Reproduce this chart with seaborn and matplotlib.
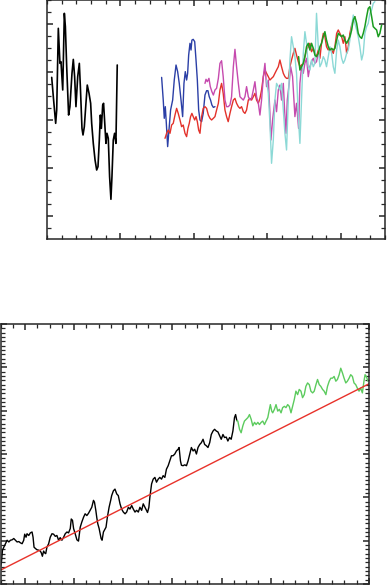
import numpy as np
import seaborn as sns
import matplotlib
matplotlib.use("Agg")
import matplotlib.pyplot as plt
from matplotlib.ticker import MultipleLocator, FixedLocator

# ---- top panel series (x in minor-tick units, y in minor-tick units) ----
black_x = [0.32, 0.43, 0.59, 0.66, 0.77, 0.88, 0.95, 1.07, 1.18, 1.25, 1.34, 1.47, 1.56, 1.70,
           1.79, 1.88, 1.97, 2.09, 2.20, 2.27, 2.38, 2.45, 2.54, 2.65, 2.74, 2.86, 2.97, 3.04,
           3.15, 3.27, 3.38, 3.47, 3.56, 3.63, 3.70, 3.79, 3.85, 3.95, 4.01, 4.08, 4.17, 4.26,
           4.35, 4.42, 4.51, 4.60, 4.69, 4.78]
black_y = [12.58, 10.97, 8.75, 9.86, 16.67, 13.75, 13.89, 11.53, 17.92, 16.81, 13.47, 9.44, 10.14,
           12.92, 14.08, 12.64, 10.14, 12.64, 13.75, 11.81, 8.33, 7.78, 8.47, 10.42, 11.94, 11.25,
           10.42, 8.75, 7.08, 5.69, 4.86, 5.14, 7.36, 9.44, 8.33, 10.28, 10.42, 8.33, 7.08, 7.92,
           7.50, 4.31, 2.42, 4.31, 7.36, 7.92, 7.08, 13.61]

blue_x = [7.80, 7.91, 7.98, 8.05, 8.12, 8.21, 8.30, 8.41, 8.55, 8.66, 8.78, 8.89, 9.00, 9.12, 9.23,
          9.32, 9.41, 9.50, 9.57, 9.64, 9.73, 9.80, 9.86, 9.95, 10.05, 10.14, 10.23, 10.32, 10.41,
          10.52, 10.63, 10.75, 10.86, 10.95, 11.04, 11.13, 11.22, 11.32, 11.43]
blue_y = [12.58, 10.69, 9.17, 10.14, 8.75, 6.81, 8.19, 9.86, 10.69, 12.36, 13.61, 13.06, 12.08,
          10.69, 9.31, 12.08, 13.06, 12.36, 12.92, 14.44, 15.42, 14.86, 15.69, 15.75, 15.56, 14.03,
          12.36, 9.86, 9.03, 8.89, 9.58, 11.11, 11.47, 11.47, 10.97, 10.69, 10.28, 10.08, 10.14]

red_x = [8.03, 8.14, 8.25, 8.37, 8.48, 8.59, 8.71, 8.82, 8.93, 9.05, 9.16, 9.27, 9.39, 9.50, 9.59,
         9.68, 9.77, 9.86, 9.95, 10.05, 10.14, 10.23, 10.32, 10.41, 10.52, 10.63, 10.75, 10.86,
         10.98, 11.09, 11.20, 11.32, 11.43, 11.54, 11.66, 11.77, 11.88, 11.99, 12.11, 12.22, 12.33,
         12.45, 12.56, 12.68, 12.79, 12.90, 13.02, 13.13, 13.24, 13.36, 13.47, 13.58, 13.70, 13.81,
         13.92, 14.04, 14.15, 14.26, 14.38, 14.49, 14.60, 14.72, 14.83, 14.94, 15.06, 15.17, 15.28,
         15.40, 15.51, 15.62, 15.74, 15.85, 15.96, 16.08, 16.19, 16.30, 16.42, 16.53, 16.64, 16.76,
         16.87, 16.98, 17.10, 17.21, 17.32, 17.44, 17.55, 17.66, 17.78, 17.89, 18.00, 18.12, 18.23,
         18.34, 18.46, 18.57, 18.68, 18.80, 18.91, 19.02, 19.14, 19.25, 19.37, 19.48, 19.59, 19.71,
         19.82, 19.93, 20.05, 20.16, 20.27, 20.39, 20.50, 20.61, 20.73, 20.84, 20.95]
red_y = [7.50, 7.92, 8.19, 7.92, 8.61, 8.75, 9.44, 10.00, 9.58, 9.03, 8.47, 8.61, 7.92, 7.64, 8.33,
         8.75, 9.31, 9.58, 9.31, 9.03, 9.31, 8.89, 8.19, 7.92, 9.31, 10.00, 10.14, 10.00, 9.44, 9.17,
         9.03, 9.17, 9.31, 9.86, 10.42, 11.53, 12.08, 11.25, 9.86, 9.31, 8.89, 9.58, 10.14, 10.69,
         10.83, 10.42, 10.14, 10.00, 10.14, 9.72, 9.58, 9.86, 10.69, 10.83, 10.69, 10.97, 11.25,
         10.69, 10.42, 10.83, 11.53, 12.64, 13.19, 12.92, 12.64, 12.36, 12.50, 12.64, 12.92, 13.19,
         13.47, 14.03, 13.47, 12.92, 12.64, 12.50, 12.50, 13.47, 14.03, 14.58, 15.00, 14.44, 13.89,
         13.47, 13.61, 13.75, 14.31, 14.86, 15.14, 15.42, 14.72, 15.00, 14.58, 14.31, 14.86, 14.17,
         15.42, 16.25, 15.97, 15.14, 14.86, 15.00, 14.86, 14.58, 15.14, 16.25, 16.53, 16.25, 15.97,
         15.42, 15.97, 14.58, 15.14, 16.25, 16.94, 17.36, 17.64]

magenta_x = [10.75, 10.82, 10.91, 11.02, 11.11, 11.22, 11.32, 11.43, 11.54, 11.66, 11.77, 11.88,
             11.99, 12.11, 12.22, 12.33, 12.45, 12.56, 12.68, 12.79, 12.90, 13.02, 13.13, 13.24,
             13.36, 13.47, 13.58, 13.70, 13.81, 13.92, 14.04, 14.15, 14.26, 14.38, 14.49, 14.60,
             14.72, 14.83, 14.94, 15.06, 15.17, 15.24, 15.35, 15.51, 15.62, 15.74, 15.85, 15.96,
             16.08, 16.19, 16.26, 16.35, 16.48, 16.58, 16.71, 16.87, 16.98, 17.12, 17.21, 17.32,
             17.44, 17.55, 17.66, 17.78, 17.89, 18.00, 18.12, 18.23, 18.34, 18.46]
magenta_y = [12.08, 12.42, 12.22, 12.50, 11.81, 11.39, 11.11, 11.53, 11.67, 12.50, 13.75, 13.97,
             12.64, 10.69, 10.14, 10.14, 10.28, 10.97, 13.47, 14.92, 13.47, 12.08, 10.97, 10.83,
             10.69, 10.97, 11.81, 10.97, 10.69, 10.83, 11.53, 12.22, 10.97, 10.42, 9.44, 10.69,
             12.64, 13.75, 11.81, 12.36, 9.58, 7.36, 9.03, 10.69, 9.72, 11.53, 11.94, 10.69, 12.08,
             9.31, 7.92, 10.69, 12.08, 13.47, 12.64, 9.31, 10.42, 8.33, 12.08, 13.47, 12.92, 13.75,
             14.17, 12.64, 13.47, 13.89, 14.17, 13.75, 13.89, 14.58]

cyan_x = [14.94, 15.06, 15.17, 15.28, 15.40, 15.51, 15.62, 15.74, 15.85, 15.96, 16.08, 16.19, 16.30,
          16.42, 16.53, 16.64, 16.76, 16.87, 16.98, 17.10, 17.21, 17.32, 17.44, 17.55, 17.66, 17.78,
          17.89, 18.00, 18.12, 18.23, 18.34, 18.46, 18.57, 18.68, 18.80, 18.91, 19.02, 19.14, 19.25,
          19.37, 19.48, 19.59, 19.71, 19.82, 19.93, 20.05, 20.16, 20.27, 20.39, 20.50, 20.61, 20.73,
          20.84, 20.95, 21.07, 21.18, 21.29, 21.41, 21.52, 21.63, 21.75, 21.86, 21.97, 22.09, 22.20,
          22.31]
cyan_y = [12.36, 11.25, 8.75, 5.42, 7.36, 10.69, 12.08, 11.81, 11.53, 12.08, 9.86, 7.92, 6.53,
          10.69, 14.03, 15.97, 15.14, 14.31, 12.92, 9.31, 7.08, 10.69, 14.58, 16.39, 15.42, 13.47,
          13.19, 14.03, 13.47, 13.75, 17.92, 15.14, 13.47, 13.75, 14.31, 14.03, 13.47, 14.31, 15.14,
          14.58, 13.47, 12.92, 14.86, 15.69, 15.14, 14.17, 13.75, 14.03, 14.58, 14.86, 15.69, 16.81,
          17.78, 17.08, 16.53, 15.97, 15.14, 14.03, 14.58, 16.25, 16.81, 17.08, 17.92, 18.19, 18.75,
          18.89]

green_x = [17.12, 17.21, 17.32, 17.44, 17.55, 17.66, 17.78, 17.89, 18.00, 18.12, 18.23, 18.34,
           18.46, 18.57, 18.68, 18.80, 18.91, 19.02, 19.14, 19.25, 19.37, 19.48, 19.59, 19.71,
           19.82, 19.93, 20.05, 20.16, 20.27, 20.39, 20.50, 20.61, 20.73, 20.84, 20.95, 21.07,
           21.18, 21.29, 21.41, 21.52, 21.63, 21.75, 21.86, 21.97, 22.09, 22.20, 22.31, 22.43,
           22.54, 22.65, 22.77]
green_y = [14.31, 13.19, 13.47, 13.75, 14.31, 15.14, 15.42, 14.86, 15.42, 15.00, 14.44, 14.31,
           14.58, 15.14, 15.42, 15.97, 16.39, 15.69, 15.14, 14.86, 15.00, 14.86, 15.00, 15.69,
           16.25, 16.11, 15.97, 16.11, 15.69, 15.42, 15.69, 15.97, 16.53, 17.36, 17.64, 17.08,
           16.25, 15.97, 15.83, 16.25, 16.81, 17.64, 18.33, 18.47, 17.64, 16.81, 16.67, 16.53,
           15.97, 16.25, 16.94]

# ---- bottom panel series ----
obs_x = [0.00, 0.08, 0.16, 0.27, 0.41, 0.54, 0.68, 0.81, 0.95, 1.08, 1.22, 1.35, 1.49, 1.62, 1.76,
         1.89, 1.97, 2.08, 2.16, 2.30, 2.43, 2.57, 2.65, 2.73, 2.84, 2.97, 3.11, 3.24, 3.32, 3.41,
         3.51, 3.59, 3.68, 3.78, 3.92, 4.05, 4.19, 4.32, 4.46, 4.59, 4.73, 4.86, 5.00, 5.14, 5.27,
         5.41, 5.54, 5.68, 5.76, 5.86, 5.95, 6.08, 6.22, 6.35, 6.49, 6.62, 6.76, 6.89, 7.03, 7.16,
         7.30, 7.43, 7.57, 7.65, 7.76, 7.84, 7.92, 8.03, 8.11, 8.19, 8.27, 8.38, 8.46, 8.59, 8.70,
         8.84, 8.97, 9.05, 9.19, 9.32, 9.46, 9.59, 9.73, 9.86, 10.00, 10.14, 10.27, 10.41, 10.54,
         10.68, 10.81, 10.95, 11.08, 11.22, 11.35, 11.49, 11.62, 11.76, 11.89, 11.97, 12.08, 12.16,
         12.30, 12.43, 12.57, 12.70, 12.84, 12.97, 13.11, 13.24, 13.38, 13.51, 13.65, 13.78, 13.92,
         14.05, 14.19, 14.32, 14.46, 14.54, 14.65, 14.73, 14.86, 15.00, 15.14, 15.27, 15.41, 15.54,
         15.68, 15.81, 15.95, 16.08, 16.22, 16.35, 16.49, 16.62, 16.76, 16.89, 17.03, 17.16, 17.30,
         17.43, 17.57, 17.70, 17.84, 17.97, 18.11, 18.24, 18.38, 18.51, 18.65, 18.78, 18.92, 19.05,
         19.14, 19.24]
obs_y = [0.40, 0.51, 0.78, 0.85, 0.93, 1.01, 0.97, 1.01, 1.02, 1.05, 1.01, 0.97, 0.98, 0.95, 0.93,
         1.01, 1.15, 1.08, 1.16, 1.12, 1.18, 1.20, 1.08, 0.85, 0.82, 0.79, 0.78, 0.76, 0.72, 0.64,
         0.76, 0.72, 0.70, 0.85, 0.93, 1.08, 1.16, 1.15, 1.10, 1.12, 1.01, 1.07, 1.01, 1.08, 1.16,
         1.20, 1.18, 1.28, 1.50, 1.47, 1.28, 1.16, 1.02, 0.99, 1.31, 1.43, 1.54, 1.62, 1.58, 1.63,
         1.70, 1.77, 1.93, 1.89, 1.70, 1.53, 1.39, 1.28, 1.16, 1.05, 1.01, 1.20, 1.24, 1.31, 1.54,
         1.77, 1.93, 2.04, 2.15, 2.19, 2.08, 2.04, 1.85, 1.73, 1.66, 1.62, 1.66, 1.77, 1.73, 1.81,
         1.73, 1.66, 1.70, 1.66, 1.77, 1.70, 1.85, 1.77, 1.70, 1.65, 1.77, 2.00, 2.31, 2.42, 2.46,
         2.35, 2.42, 2.46, 2.42, 2.50, 2.46, 2.65, 2.73, 2.84, 2.96, 2.96, 3.00, 3.07, 3.11, 3.15,
         2.84, 2.74, 2.73, 2.75, 2.73, 2.84, 3.00, 3.15, 3.07, 3.11, 3.00, 3.15, 3.22, 3.26, 3.34,
         3.22, 3.19, 3.15, 3.26, 3.45, 3.53, 3.57, 3.53, 3.51, 3.42, 3.34, 3.45, 3.38, 3.39, 3.30,
         3.38, 3.34, 3.53, 3.84, 3.91, 3.77]

proj_x = [19.24, 19.32, 19.46, 19.59, 19.73, 19.86, 20.00, 20.14, 20.27, 20.41, 20.54, 20.68, 20.81,
          20.95, 21.08, 21.22, 21.35, 21.49, 21.62, 21.76, 21.89, 21.97, 22.08, 22.16, 22.30, 22.43,
          22.57, 22.70, 22.84, 22.97, 23.11, 23.24, 23.38, 23.51, 23.65, 23.78, 23.92, 24.05, 24.19,
          24.32, 24.46, 24.59, 24.73, 24.86, 25.00, 25.14, 25.27, 25.41, 25.54, 25.68, 25.81, 25.95,
          26.08, 26.22, 26.35, 26.49, 26.62, 26.76, 26.89, 27.03, 27.16, 27.30, 27.43, 27.57, 27.70,
          27.84, 27.97, 28.11, 28.24, 28.38, 28.51, 28.65, 28.78, 28.92, 29.05, 29.19, 29.32, 29.46,
          29.59, 29.68, 29.78, 29.92]
proj_y = [3.77, 3.76, 3.57, 3.49, 3.65, 3.76, 3.80, 3.84, 3.91, 3.80, 3.65, 3.73, 3.68, 3.73, 3.68,
          3.73, 3.76, 3.68, 3.76, 3.84, 4.03, 4.14, 3.99, 3.95, 4.03, 4.14, 3.99, 4.03, 3.95, 4.07,
          4.10, 4.07, 4.14, 4.10, 3.95, 4.10, 4.26, 4.45, 4.37, 4.49, 4.45, 4.30, 4.37, 4.56, 4.64,
          4.60, 4.45, 4.41, 4.45, 4.60, 4.72, 4.60, 4.56, 4.49, 4.45, 4.37, 4.56, 4.68, 4.75, 4.75,
          4.79, 4.68, 4.72, 4.83, 4.98, 4.87, 4.75, 4.64, 4.68, 4.75, 4.83, 4.79, 4.64, 4.60, 4.52,
          4.45, 4.52, 4.41, 4.68, 4.83, 4.79, 4.68]

trend_x = [0.0, 30.0]
trend_y = [0.32, 4.62]

sns.set_style("ticks")
plt.rcParams.update({
    "xtick.direction": "in", "ytick.direction": "in",
    "xtick.top": True, "ytick.right": True,
    "axes.linewidth": 1.1,
})

fig = plt.figure(figsize=(3.87, 5.86), dpi=100)
ax1 = fig.add_axes([47 / 387, 1 - 239 / 586, 338 / 387, 239 / 586])
ax2 = fig.add_axes([0.5 / 387, 2 / 586, 368.5 / 387, 260 / 586])


def draw(ax, x, y, color, lw):
    sns.lineplot(x=x, y=y, ax=ax, color=color, linewidth=lw, sort=False, estimator=None)


# top panel
draw(ax1, black_x, black_y, "black", 1.2)
draw(ax1, blue_x, blue_y, "#2b3fa6", 1.0)
draw(ax1, red_x, red_y, "#e3322b", 1.0)
draw(ax1, magenta_x, magenta_y, "#c64aae", 1.0)
draw(ax1, cyan_x, cyan_y, "#8cd9d6", 1.0)
draw(ax1, green_x, green_y, "#1a9c1f", 1.1)
ax1.set_xlim(0, 23)
ax1.set_ylim(-0.89, 19.03)
ax1.xaxis.set_major_locator(FixedLocator([5, 10, 15, 20]))
ax1.xaxis.set_minor_locator(MultipleLocator(1))
ax1.yaxis.set_major_locator(FixedLocator([1, 5, 9, 13, 17]))
ax1.yaxis.set_minor_locator(MultipleLocator(1))

# bottom panel
draw(ax2, obs_x, obs_y, "black", 1.0)
draw(ax2, proj_x, proj_y, "#5ccb5e", 1.0)
draw(ax2, trend_x, trend_y, "#e8322a", 1.0)
ax2.set_xlim(0, 30)
ax2.set_ylim(0, 6)
ax2.xaxis.set_major_locator(MultipleLocator(4, offset=2))
ax2.xaxis.set_minor_locator(MultipleLocator(1))
ax2.yaxis.set_major_locator(MultipleLocator(1))
ax2.yaxis.set_minor_locator(MultipleLocator(0.1))

for ax in (ax1, ax2):
    ax.tick_params(which="major", length=4, width=1.1, labelleft=False, labelbottom=False)
    ax.tick_params(which="minor", length=3, width=0.9)
    ax.set_xlabel("")
    ax.set_ylabel("")

fig.savefig("out.png", dpi=100)
